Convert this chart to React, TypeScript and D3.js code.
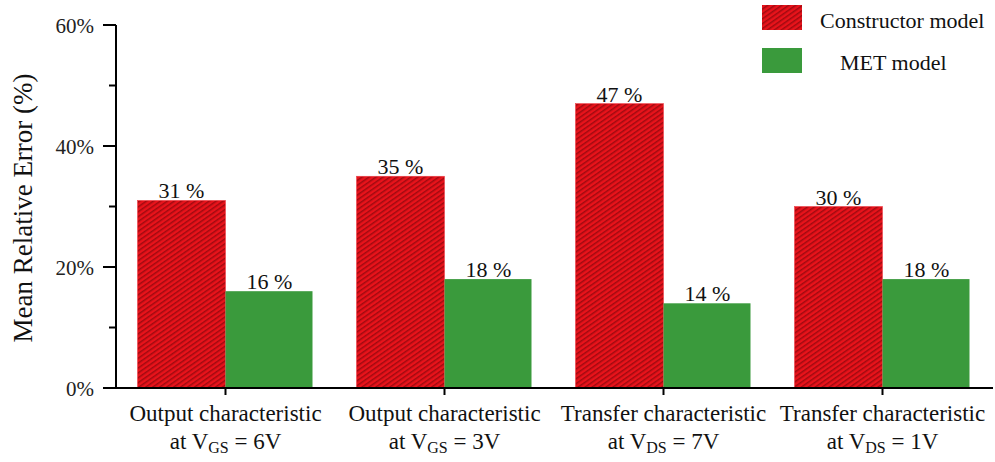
import React from "react";
import * as d3 from "d3";

const categories = ["Output characteristic|at V|GS|= 6V", "Output characteristic|at V|GS|= 3V", "Transfer characteristic|at V|DS|= 7V", "Transfer characteristic|at V|DS|= 1V"];
const constructorValues = [31, 35, 47, 30];
const metValues = [16, 18, 14, 18];
const yTicks = [0, 20, 40, 60];
const yMinorTicks = [10, 30, 50];
const seriesNames = ["Constructor model", "MET model"];

const W = 995, H = 462;
const left = 116, right = 992, top = 25, bottom = 388;
const FONT = "'Liberation Serif', 'Times New Roman', serif";
const RED = "#e8131b";
const GREEN = "#3a9a3c";

export default function App() {
  const x = d3.scaleBand<number>().domain(d3.range(categories.length)).range([left, right]).padding(0);
  const y = d3.scaleLinear().domain([0, 60]).range([bottom, top]);
  const bw = x.bandwidth();
  const barW = 88;
  return (
    <svg width={W} height={H} style={{ position: "absolute", left: 0, top: 0 }} fontFamily={FONT}>
      <defs>
        <pattern id="hatch" patternUnits="userSpaceOnUse" width="4" height="4" patternTransform="rotate(-35)">
          <rect width="4" height="4" fill={RED} />
          <line x1="0" y1="0.75" x2="4" y2="0.75" stroke="#a00a10" strokeWidth="1.5" />
        </pattern>
      </defs>
      <rect width={W} height={H} fill="#fff" />
      {categories.map((c, i) => {
        const cx = (x(i) as number) + bw / 2;
        const r = constructorValues[i];
        const g = metValues[i];
        return (
          <g key={i}>
            <rect x={cx - barW} y={y(r)} width={barW} height={bottom - y(r)} fill="url(#hatch)" stroke="#f04048" strokeWidth={0.6} />
            <rect x={cx} y={y(g)} width={barW - 1} height={bottom - y(g)} fill={GREEN} />
            <text x={cx - barW / 2} y={y(r) - 2} textAnchor="middle" fontSize={22} fill="#111">{r} %</text>
            <text x={cx + barW / 2} y={y(g) - 2} textAnchor="middle" fontSize={22} fill="#111">{g} %</text>
          </g>
        );
      })}
      {/* y axis */}
      <line x1={left} x2={left} y1={top} y2={bottom} stroke="#000" strokeWidth={2} />
      {yTicks.map((t) => (
        <g key={t}>
          <line x1={left - 13} x2={left} y1={y(t)} y2={y(t)} stroke="#000" strokeWidth={2} />
          <text x={left - 22} y={y(t) + 8} textAnchor="end" fontSize={21} fill="#222">{t}%</text>
        </g>
      ))}
      {yMinorTicks.map((t) => (
        <line key={t} x1={left - 7} x2={left} y1={y(t)} y2={y(t)} stroke="#000" strokeWidth={2} />
      ))}
      {/* x axis */}
      <line x1={left - 13} x2={right + 1} y1={bottom} y2={bottom} stroke="#000" strokeWidth={2} />
      {categories.map((c, i) => {
        const cx = (x(i) as number) + bw / 2;
        const [l1, l2, sub, l3] = c.split("|");
        return (
          <g key={"l" + i}>
            <line x1={cx} x2={cx} y1={bottom} y2={bottom + 7} stroke="#000" strokeWidth={2} />
            <text x={cx} y={bottom + 33} textAnchor="middle" fontSize={23} fill="#111">{l1}</text>
            <text x={cx} y={bottom + 61} textAnchor="middle" fontSize={23} fill="#111">
              {l2}
              <tspan fontSize={16} dy={4}>{sub}</tspan>
              <tspan dy={-4}> {l3}</tspan>
            </text>
          </g>
        );
      })}
      <text transform={`translate(32, ${208}) rotate(-90)`} textAnchor="middle" fontSize={27} fill="#111">Mean Relative Error (%)</text>
      {/* legend */}
      <rect x={762} y={5} width={40} height={25} fill="url(#hatch)" />
      <text x={820} y={28} fontSize={22} fill="#111">{seriesNames[0]}</text>
      <rect x={762} y={48} width={40} height={25} fill={GREEN} />
      <text x={840} y={70} fontSize={22} fill="#111">{seriesNames[1]}</text>
    </svg>
  );
}
